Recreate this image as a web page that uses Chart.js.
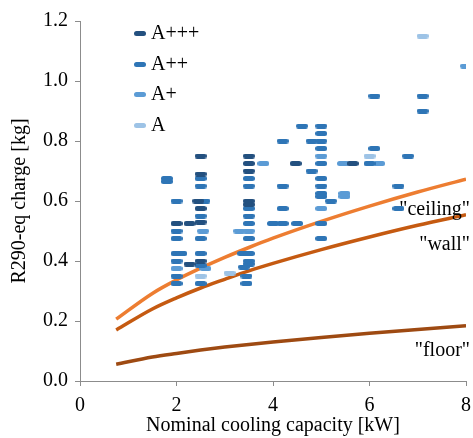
<!DOCTYPE html>
<html>
<head>
<meta charset="utf-8">
<script src="https://cdn.jsdelivr.net/npm/chart.js@4.4.1/dist/chart.umd.min.js"></script>
<style>
  html, body { margin: 0; padding: 0; background: #fff; }
  #wrap { width: 473px; height: 438px; }
</style>
</head>
<body>
<div id="wrap"><canvas id="chargeChart" width="473" height="438"></canvas></div>
<script>
// Charge R290-éq [kg] en fonction de la puissance frigorifique nominale [kW], par classe énergétique
const classLabels = ['A+++', 'A++', 'A+', 'A'];
const classColors = ['#23507f', '#2e75b6', '#5b9bd5', '#9dc3e6'];

// [puissance kW, charge kg]
const pointsAppp = [
    [2.0, 0.525], [2.5, 0.75], [2.5, 0.69], [2.45, 0.60], [2.5, 0.575], [2.5, 0.53],
    [2.27, 0.525], [2.5, 0.40], [2.27, 0.39], [3.5, 0.75], [3.5, 0.725], [3.5, 0.70],
    [3.5, 0.60], [3.5, 0.588], [4.47, 0.725], [5.65, 0.725]
];
const pointsApp = [
    [1.8, 0.675], [1.8, 0.665],
    [2.0, 0.60], [2.0, 0.50], [2.0, 0.475], [2.0, 0.425], [2.1, 0.425], [2.0, 0.40], [2.0, 0.35], [2.0, 0.325],
    [2.5, 0.675], [2.5, 0.65], [2.58, 0.60], [2.5, 0.55], [2.5, 0.475], [2.5, 0.425], [2.5, 0.385], [2.5, 0.325],
    [3.5, 0.675], [3.5, 0.65], [3.5, 0.575], [3.5, 0.55], [3.5, 0.525], [3.5, 0.475], [3.38, 0.425], [3.5, 0.425],
    [3.5, 0.40], [3.5, 0.39], [3.4, 0.38], [3.45, 0.35], [3.45, 0.325],
    [4.2, 0.80], [4.2, 0.65], [4.2, 0.575], [4.0, 0.525], [4.2, 0.525], [4.5, 0.525],
    [4.6, 0.85], [5.0, 0.85], [4.8, 0.80], [5.0, 0.825], [5.0, 0.80], [5.0, 0.775], [5.0, 0.725], [4.8, 0.70],
    [5.0, 0.675], [5.0, 0.65], [5.0, 0.625], [5.0, 0.615], [5.2, 0.60], [5.0, 0.525], [5.0, 0.475],
    [6.1, 0.95], [6.1, 0.775], [6.0, 0.725], [6.6, 0.65], [6.6, 0.575], [6.8, 0.75], [7.1, 0.95], [7.1, 0.90]
];
const pointsAp = [
    [2.0, 0.375], [2.55, 0.50], [2.6, 0.375], [3.3, 0.50], [3.5, 0.50], [3.8, 0.725], [5.0, 0.75],
    [5.0, 0.575], [5.45, 0.725], [5.48, 0.625], [5.48, 0.615], [6.2, 0.725], [8.0, 1.05]
];
const pointsA = [
    [2.5, 0.35], [3.1, 0.36], [6.0, 0.75], [7.1, 1.15]
];

// Limites de charge selon l'emplacement de l'unité intérieure
const limitCapacity = [0.75, 1.5, 2, 2.5, 3, 3.5, 4, 5, 6, 7, 8];
const limitCeiling = [0.206, 0.292, 0.337, 0.376, 0.412, 0.445, 0.476, 0.532, 0.583, 0.630, 0.673];
const limitWall    = [0.170, 0.240, 0.277, 0.310, 0.339, 0.367, 0.392, 0.438, 0.480, 0.519, 0.554];
const limitFloor   = [0.056, 0.080, 0.092, 0.103, 0.113, 0.122, 0.130, 0.145, 0.159, 0.172, 0.184];
const limitLabels  = ['"ceiling"', '"wall"', '"floor"'];
const limitLabelY  = [0.57, 0.455, 0.1];
const limitColors  = ['#ed7d31', '#c55a11', '#9e4a12'];

const xTicks = [0, 2, 4, 6, 8];
const FONT = '"Liberation Serif", "Times New Roman", serif';

// petit tiret arrondi utilisé comme marqueur
function makeDash(color) {
    const c = document.createElement('canvas');
    c.width = 12;
    c.height = 5;
    const g = c.getContext('2d');
    g.fillStyle = color;
    g.beginPath();
    g.roundRect(0, 0, 12, 5, 2.5);
    g.fill();
    return c;
}
const markers = classColors.map(makeDash);

function toXY(list) {
    return list.map(p => ({ x: p[0], y: p[1] }));
}
function toLine(values) {
    return limitCapacity.map((x, i) => ({ x: x, y: values[i] }));
}

const classSeries = [pointsAppp, pointsApp, pointsAp, pointsA];
const limitSeries = [limitCeiling, limitWall, limitFloor];

const datasets = [];
classSeries.forEach((pts, i) => {
    datasets.push({
        label: classLabels[i],
        data: toXY(pts),
        pointStyle: markers[i],
        pointRadius: 6,
        pointHoverRadius: 6,
        order: 1
    });
});
limitSeries.forEach((vals, i) => {
    datasets.push({
        label: limitLabels[i],
        data: toLine(vals),
        showLine: true,
        borderColor: limitColors[i],
        borderWidth: 3.5,
        pointRadius: 0,
        cubicInterpolationMode: 'monotone',
        order: 2
    });
});

// légende maison, dans le coin haut gauche de la zone de tracé
const classLegend = {
    id: 'classLegend',
    afterDraw(chart) {
        const { ctx, chartArea } = chart;
        ctx.save();
        ctx.font = '20px ' + FONT;
        ctx.textBaseline = 'middle';
        ctx.fillStyle = '#000';
        classLabels.forEach((label, i) => {
            const x = Math.round(chartArea.left + 60);
            const y = Math.round(chartArea.top + 12 + i * 30.7);
            ctx.drawImage(markers[i], x - 6, y - 2);
            ctx.fillText(label, x + 11, y + 1);
        });
        ctx.restore();
    }
};

// étiquettes des courbes limites, à droite
const limitTags = {
    id: 'limitTags',
    afterDatasetsDraw(chart) {
        const { ctx, chartArea, scales } = chart;
        ctx.save();
        ctx.font = '20px ' + FONT;
        ctx.textAlign = 'right';
        ctx.textBaseline = 'middle';
        ctx.fillStyle = '#000';
        limitLabels.forEach((label, i) => {
            ctx.fillText(label, chartArea.right + 4, scales.y.getPixelForValue(limitLabelY[i]));
        });
        ctx.restore();
    }
};

new Chart(document.getElementById('chargeChart'), {
    type: 'scatter',
    data: { datasets: datasets },
    plugins: [classLegend, limitTags],
    options: {
        responsive: false,
        animation: false,
        layout: { padding: { top: 21, right: 0, left: 0, bottom: 0 } },
        plugins: {
            legend: { display: false },
            tooltip: { enabled: false }
        },
        scales: {
            x: {
                min: 0,
                max: 8,
                afterBuildTicks: axis => { axis.ticks = xTicks.map(v => ({ value: v })); },
                border: { display: true, color: '#8c8c8c', width: 1 },
                grid: { drawOnChartArea: false, drawTicks: true, tickLength: 5, color: '#8c8c8c' },
                ticks: { color: '#000', font: { family: FONT, size: 20 }, padding: 8, maxRotation: 0 },
                title: {
                    display: true,
                    text: 'Nominal cooling capacity [kW]',
                    color: '#000',
                    font: { family: FONT, size: 20 },
                    padding: { top: 0, bottom: 0 }
                },
                afterFit: axis => {
                    axis.height = 57;
                    axis.paddingLeft = 0;
                    axis.paddingRight = 5;
                }
            },
            y: {
                min: 0,
                max: 1.2,
                ticks: {
                    stepSize: 0.2,
                    color: '#000',
                    font: { family: FONT, size: 20 },
                    padding: 7,
                    callback: v => v.toFixed(1)
                },
                border: { display: true, color: '#8c8c8c', width: 1 },
                grid: { drawOnChartArea: false, drawTicks: true, tickLength: 5, color: '#8c8c8c' },
                title: {
                    display: true,
                    text: 'R290-eq charge [kg]',
                    color: '#000',
                    font: { family: FONT, size: 20 },
                    padding: { top: 8, bottom: 0 }
                },
                afterFit: axis => { axis.width = 80; }
            }
        }
    }
});
</script>
</body>
</html>
